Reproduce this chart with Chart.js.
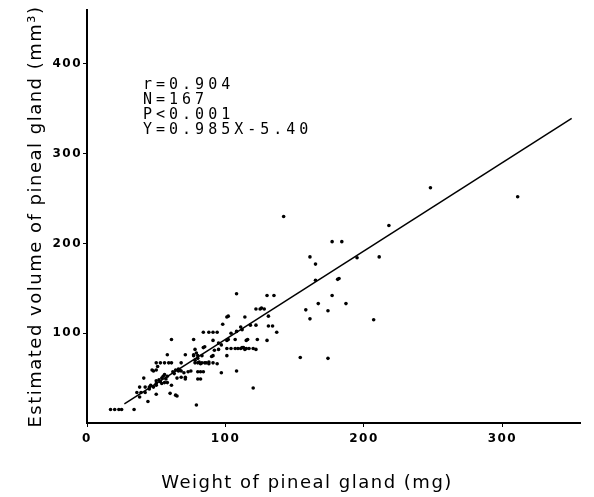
<!DOCTYPE html>
<html>
<head>
<meta charset="utf-8">
<script src="https://cdn.jsdelivr.net/npm/chart.js@4.4.0/dist/chart.umd.min.js"></script>
<style>
  html, body { margin: 0; padding: 0; background: #fff; }
</style>
</head>
<body>
<canvas id="pinealChart" width="594" height="497"></canvas>
<script>
// Weight of pineal gland (mg), one value per gland
const weightMg = [
  17, 20, 23, 25, 34, 44, 38, 36, 39, 42,
  38, 42, 45, 41, 45, 48, 50, 46, 50, 54,
  58, 52, 54, 55, 56, 57, 53, 50, 58, 56,
  51, 47, 50, 48, 61, 65, 64, 60, 50, 50,
  53, 56, 59, 61, 58, 61, 71, 77, 79, 80,
  81, 78, 68, 62, 64, 66, 68, 70, 73, 75,
  67, 66, 65, 68, 71, 71, 79, 63, 77, 78,
  77, 80, 83, 91, 90, 101, 78, 80, 83, 86,
  88, 82, 85, 88, 91, 94, 80, 84, 80, 82,
  82, 97, 108, 84, 85, 92, 95, 97, 95, 101,
  104, 107, 109, 111, 113, 115, 117, 120, 122, 112,
  114, 91, 101, 102, 107, 115, 116, 123, 130, 84,
  88, 91, 94, 104, 108, 112, 98, 111, 118, 122,
  131, 134, 137, 101, 102, 114, 131, 122, 125, 128,
  126, 108, 130, 135, 120, 142, 248, 311, 218, 177,
  184, 161, 165, 195, 211, 165, 181, 182, 177, 187,
  167, 158, 174, 161, 207, 154, 174
];
// Estimated volume (mm3), same order as weightMg
const volumeMm3 = [
  15, 15, 15, 15, 15, 24, 29, 34, 34, 34,
  40, 40, 40, 50, 38, 40, 42, 42, 44, 44,
  45, 48, 50, 52, 54, 49, 46, 47, 52, 45,
  63, 59, 59, 58, 42, 30, 31, 33, 32, 67,
  67, 67, 67, 67, 76, 93, 76, 76, 78, 72,
  68, 70, 67, 57, 59, 60, 58, 56, 57, 58,
  59, 58, 50, 51, 49, 51, 20, 55, 93, 82,
  75, 75, 75, 75, 74, 75, 67, 67, 67, 67,
  68, 66, 67, 66, 67, 66, 57, 57, 49, 57,
  49, 56, 58, 84, 85, 81, 82, 87, 89, 83,
  83, 83, 83, 83, 84, 83, 83, 83, 82, 84,
  82, 92, 92, 93, 93, 92, 93, 93, 92, 101,
  101, 101, 101, 100, 102, 104, 110, 107, 109, 109,
  108, 108, 101, 118, 119, 118, 119, 127, 127, 127,
  128, 144, 142, 142, 39, 230, 262, 252, 220, 202,
  202, 185, 177, 184, 185, 159, 160, 161, 142, 133,
  133, 126, 125, 116, 115, 73, 72
];

// Regression line end points (Y = 0.985X - 5.40)
const fitWeights = [27, 350];
const fitVolumes = [21.2, 339.4];

const xTickValues = [0, 100, 200, 300];
const yTickValues = [100, 200, 300, 400];
const statsLines = ['r=0.904', 'N=167', 'P<0.001', 'Y=0.985X-5.40'];
const xTitle = 'Weight of pineal gland (mg)';

const points = weightMg.map((w, i) => ({ x: w, y: volumeMm3[i] }));
const fitLine = fitWeights.map((w, i) => ({ x: w, y: fitVolumes[i] }));

// Bredare teckenavstånd för all text, som i originalet
const spacingPlugin = {
  id: 'letterSpacing',
  beforeDraw(chart) {
    chart.ctx.letterSpacing = '1.5px';
  }
};

// Statistik-texten uppe till vänster + x-axelns titel (ligger lite vänster om mitten i originalet)
const textPlugin = {
  id: 'extraText',
  afterDraw(chart) {
    const ctx = chart.ctx;
    ctx.save();
    ctx.fillStyle = '#000';
    ctx.font = '15px "DejaVu Sans Mono"';
    ctx.letterSpacing = '4px';
    ctx.textBaseline = 'middle';
    statsLines.forEach((line, i) => {
      ctx.fillText(line, 143, 85 + i * 15);
    });

    ctx.font = '18px "DejaVu Sans"';
    ctx.letterSpacing = '1.5px';
    ctx.textAlign = 'center';
    ctx.fillText(xTitle, 307, 483);
    ctx.restore();
  }
};

new Chart(document.getElementById('pinealChart'), {
  type: 'scatter',
  data: {
    datasets: [
      {
        data: points,
        backgroundColor: '#000',
        borderColor: '#000',
        pointRadius: 1.8,
        pointBorderWidth: 0
      },
      {
        type: 'line',
        data: fitLine,
        borderColor: '#000',
        borderWidth: 1.5,
        pointRadius: 0,
        fill: false
      }
    ]
  },
  options: {
    responsive: false,
    animation: false,
    layout: { padding: { top: 10, right: 14, left: 0, bottom: 0 } },
    plugins: {
      legend: { display: false },
      tooltip: { enabled: false }
    },
    scales: {
      x: {
        type: 'linear',
        min: 0,
        max: 356,
        afterBuildTicks: scale => { scale.ticks = xTickValues.map(v => ({ value: v })); },
        afterFit: scale => { scale.height = 74; },
        grid: { drawOnChartArea: false, tickLength: 4, color: '#000', lineWidth: 1 },
        border: { color: '#000', width: 2 },
        ticks: {
          color: '#000',
          padding: 5,
          font: { family: 'DejaVu Sans', size: 12, weight: 'bold' }
        },
        title: { display: false }
      },
      y: {
        type: 'linear',
        min: 0,
        max: 460,
        afterBuildTicks: scale => { scale.ticks = yTickValues.map(v => ({ value: v })); },
        afterFit: scale => { scale.width = 87; },
        grid: { drawOnChartArea: false, tickLength: 4, color: '#000', lineWidth: 1 },
        border: { color: '#000', width: 2 },
        ticks: {
          color: '#000',
          padding: 1,
          font: { family: 'DejaVu Sans', size: 12, weight: 'bold' }
        },
        title: {
          display: true,
          text: 'Estimated volume of pineal gland (mm³)',
          color: '#000',
          font: { family: 'DejaVu Sans', size: 18 },
          padding: { top: 26, bottom: 0 }
        }
      }
    }
  },
  plugins: [spacingPlugin, textPlugin]
});
</script>
</body>
</html>
